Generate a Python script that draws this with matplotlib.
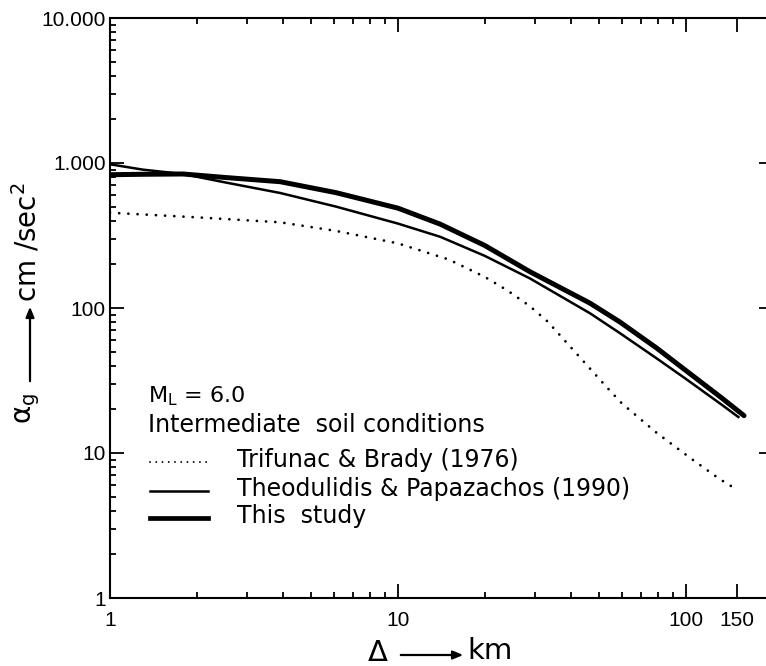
import matplotlib
matplotlib.use("Agg")
import matplotlib.pyplot as plt
from matplotlib.lines import Line2D
from matplotlib.ticker import LogLocator, NullFormatter

plt.rcParams['font.family'] = ['DejaVu Sans']
plt.rcParams['mathtext.fontset'] = 'dejavusans'

# Trifunac & Brady (1976), dotted
trifunac_dist = [1, 2, 3.9, 6.1, 10, 15, 20, 24, 28.7, 33, 37, 44, 48, 53, 60, 79, 103, 131, 150]
trifunac_acc = [454, 422, 390, 340, 279, 216, 164, 132, 103, 81, 63, 43, 35.5, 28.5, 21.9, 13.8, 9.3, 6.6, 5.6]

# Theodulidis & Papazachos (1990), thin
theod_dist = [1, 1.3, 1.79, 2.5, 3.9, 6.1, 10, 14, 20, 28.7, 46.4, 59, 79, 100, 134, 152]
theod_acc = [980, 900, 840, 736, 621, 500, 382, 310, 229, 160, 92, 67, 45, 32.4, 21.3, 17.7]

# This study, thick
study_dist = [1, 1.3, 1.79, 2.5, 3.9, 6.1, 10, 14, 20, 28.7, 46.4, 59, 79, 100, 134, 159]
study_acc = [830, 836, 840, 795, 743, 624, 488, 379, 270, 178, 108, 80, 53, 37, 23.7, 18.1]

x_ticks = [1, 10, 100, 150]
x_tick_labels = ["1", "10", "100", "150"]
y_ticks = [1, 10, 100, 1000, 10000]
y_tick_labels = ["1", "10", "100", "1.000", "10.000"]

W, H = 766, 666
fig = plt.figure(figsize=(W / 100, H / 100), dpi=100)
ax = fig.add_axes([110 / W, 68 / H, 662.7 / W, 580 / H])
ax.set_xscale('log')
ax.set_yscale('log')

ax.plot(trifunac_dist, trifunac_acc, color='black', lw=2.0,
        linestyle=(0, (0.01, 3.3)), dash_capstyle='round')
ax.plot(theod_dist, theod_acc, color='black', lw=1.8)
ax.plot(study_dist, study_acc, color='black', lw=3.6, solid_capstyle='round')

ax.set_xlim(1, 200)
ax.set_ylim(1, 10000)
ax.set_xticks(x_ticks)
ax.set_xticklabels(x_tick_labels)
ax.set_yticks(y_ticks)
ax.set_yticklabels(y_tick_labels)
ax.xaxis.set_minor_locator(LogLocator(base=10, subs=range(2, 10)))
ax.yaxis.set_minor_locator(LogLocator(base=10, subs=range(2, 10)))
ax.xaxis.set_minor_formatter(NullFormatter())
ax.yaxis.set_minor_formatter(NullFormatter())

ax.tick_params(which='both', direction='in', top=True, right=True, width=1.3, colors='black')
ax.tick_params(which='major', length=10)
ax.tick_params(which='minor', length=4.5)
ax.tick_params(axis='x', which='major', pad=9)
ax.tick_params(axis='y', which='major', pad=3)
for lab in ax.get_xticklabels() + ax.get_yticklabels():
    lab.set_fontfamily('Liberation Sans')
    lab.set_fontsize(15)
for sp in ax.spines.values():
    sp.set_linewidth(1.5)

# y axis title: alpha_g  --->  cm /sec^2 (rotated)
fig.text(28 / W, 1 - 408 / H, r"α$_{\mathrm{g}}$", rotation=90, fontsize=20,
         ha='center', va='center')
fig.add_artist(matplotlib.patches.FancyArrowPatch(
    (30 / W, 1 - 384 / H), (30 / W, 1 - 304 / H), transform=fig.transFigure,
    arrowstyle='-|>,head_length=6,head_width=2.5', color='black', lw=1.6))
fig.text(27 / W, 1 - 242 / H, r"cm /sec$^{2}$", rotation=90, fontsize=20,
         ha='center', va='center')

# x axis title: Delta ---> km
fig.text(378 / W, 1 - 653 / H, "Δ", fontsize=21, ha='center', va='center')
fig.add_artist(matplotlib.patches.FancyArrowPatch(
    (398 / W, 1 - 655 / H), (466 / W, 1 - 655 / H), transform=fig.transFigure,
    arrowstyle='-|>,head_length=6,head_width=2.5', color='black', lw=1.6))
fig.text(467 / W, 1 - 651 / H, "km", fontsize=21, ha='left', va='center')

# annotation / legend block
fig.text(148 / W, 1 - 396 / H, r"M$_{\mathrm{L}}$ = 6.0", fontsize=16, va='center')
fig.text(148 / W, 1 - 425 / H, "Intermediate  soil conditions", fontsize=17, va='center')

legend_rows = [
    ("Trifunac & Brady (1976)", 460,
     dict(lw=1.4, linestyle=(0, (0.01, 3.2)), dash_capstyle='round')),
    ("Theodulidis & Papazachos (1990)", 489, dict(lw=1.8)),
    ("This  study", 516, dict(lw=3.4)),
]
for label, py, style in legend_rows:
    fig.add_artist(Line2D([150 / W, 208 / W], [1 - (py + 2) / H] * 2,
                          transform=fig.transFigure, color='black', **style))
    fig.text(237 / W, 1 - py / H, label, fontsize=17, va='center')

fig.savefig("out.png", dpi=100)
